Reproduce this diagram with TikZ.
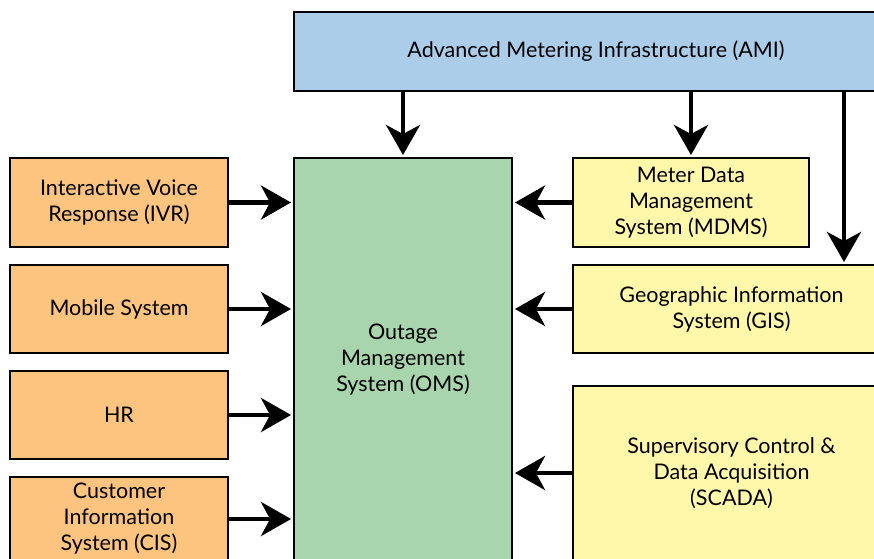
\documentclass[tikz,border=0pt]{standalone}
\usepackage{fontspec}
\setmainfont{Lato}
\usetikzlibrary{arrows.meta, calc}
\definecolor{amiblue}{RGB}{171, 205, 234}
\definecolor{omsgreen}{RGB}{168, 213, 173}
\definecolor{inorange}{RGB}{253, 196, 128}
\definecolor{inyellow}{RGB}{255, 248, 170}

\begin{document}
\begin{tikzpicture}[x=1pt, y=-1pt, font=\fontsize{21.5}{26}\selectfont,
        sysbox/.style={rectangle, draw=black, line width=2pt, align=center, inner sep=4pt},
        feed/.style={-{Stealth[length=30pt, width=34pt, inset=9pt]}, line width=4.5pt, shorten >=2pt}
    ]
        \useasboundingbox (0,0) rectangle (874,558);
        \clip (0,0) rectangle (874,558);
        \node[sysbox, fill=amiblue, minimum width=604pt, minimum height=79pt] (ami) at (596,51.5) {Advanced Metering Infrastructure (AMI)};
        \node[sysbox, fill=omsgreen, minimum width=218pt, minimum height=403pt] (oms) at (403,359.5) {Outage\\Management\\System (OMS)};
        \node[sysbox, fill=inorange, minimum width=218pt, minimum height=89pt] (ivr) at (119,202.5) {Interactive Voice\\Response (IVR)};
        \node[sysbox, fill=inorange, minimum width=218pt, minimum height=88pt] (mobile) at (119,309) {Mobile System};
        \node[sysbox, fill=inorange, minimum width=218pt, minimum height=88pt] (hr) at (119,415) {HR};
        \node[sysbox, fill=inorange, minimum width=218pt, minimum height=84pt] (cis) at (119,519) {Customer\\Information\\System (CIS)};
        \node[sysbox, fill=inyellow, minimum width=236pt, minimum height=89pt] (mdms) at (691,202.5) {Meter Data\\Management\\System (MDMS)};
        \node[sysbox, fill=inyellow, minimum width=317pt, minimum height=88pt] (gis) at (731.5,309) {Geographic Information\\System (GIS)};
        \node[sysbox, fill=inyellow, minimum width=317pt, minimum height=174pt] (scada) at (731.5,473) {Supervisory Control \&\\Data Acquisition\\(SCADA)};
        \coordinate (gisdrop) at ($(gis.north east)+(-47,0)$);
        \draw[feed] (ami.south -| oms.north) -- (oms.north);
        \draw[feed] (ami.south -| mdms.north) -- (mdms.north);
        \draw[feed] (ami.south -| gisdrop) -- (gisdrop);
        \foreach \s in {ivr, mobile, hr, cis}
            \draw[feed] (\s.east) -- (oms.west |- \s.east);
        \foreach \s in {mdms, gis, scada}
            \draw[feed] (\s.west) -- (oms.east |- \s.west);
    \end{tikzpicture}
\end{document}
